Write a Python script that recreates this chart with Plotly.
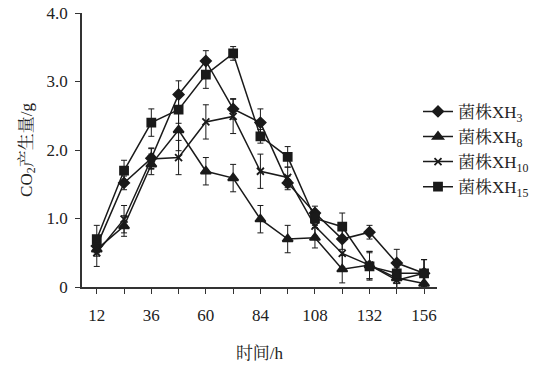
import plotly.graph_objects as go

hours = [12, 24, 36, 48, 60, 72, 84, 96, 108, 120, 132, 144, 156]

xh3 = [0.60, 1.52, 1.88, 2.81, 3.30, 2.60, 2.40, 1.52, 1.08, 0.70, 0.80, 0.35, 0.20]
xh3_err = [0.10, 0.10, 0.15, 0.20, 0.15, 0.15, 0.20, 0.10, 0.10, 0.15, 0.10, 0.20, 0.20]

xh8 = [0.55, 0.89, 1.79, 2.29, 1.69, 1.59, 0.99, 0.70, 0.72, 0.26, 0.32, 0.13, 0.05]
xh8_err = [0.10, 0.15, 0.15, 0.30, 0.20, 0.20, 0.20, 0.20, 0.15, 0.20, 0.20, 0.15, 0.10]

xh10 = [0.50, 0.99, 1.87, 1.89, 2.41, 2.49, 1.69, 1.60, 0.89, 0.49, 0.32, 0.10, 0.20]
xh10_err = [0.20, 0.20, 0.15, 0.25, 0.25, 0.25, 0.25, 0.15, 0.15, 0.20, 0.20, 0.15, 0.20]

xh15 = [0.70, 1.70, 2.40, 2.59, 3.10, 3.41, 2.20, 1.90, 1.00, 0.88, 0.30, 0.20, 0.20]
xh15_err = [0.20, 0.15, 0.20, 0.20, 0.20, 0.10, 0.10, 0.15, 0.10, 0.20, 0.20, 0.15, 0.20]

names = ["菌株XH<sub>3</sub>", "菌株XH<sub>8</sub>", "菌株XH<sub>10</sub>", "菌株XH<sub>15</sub>"]
symbols = ["diamond", "triangle-up", "x-thin-open", "square"]
sizes = [8, 9, 7, 8]

x_tickvals = [12, 36, 60, 84, 108, 132, 156]
x_minor = [24, 48, 72, 96, 120, 144]
y_tickvals = [0, 1, 2, 3, 4]
y_ticktext = ["0", "1.0", "2.0", "3.0", "4.0"]

FONT = "Liberation Serif, Times New Roman, Noto Serif CJK SC, Noto Sans CJK SC, serif"

fig = go.Figure()
for name, ys, errs, sym, sz in zip(names, [xh3, xh8, xh10, xh15],
                                   [xh3_err, xh8_err, xh10_err, xh15_err],
                                   symbols, sizes):
    fig.add_trace(go.Scatter(
        x=hours, y=ys, name=name, mode="lines+markers",
        line=dict(color="#1a1a1a", width=1.5),
        marker=dict(symbol=sym, size=sz, color="#1a1a1a",
                    line=dict(color="#1a1a1a", width=1.8)),
        error_y=dict(type="data", array=errs, visible=True,
                     color="#1a1a1a", thickness=1, width=3),
        cliponaxis=False,
    ))

fig.update_layout(
    width=550, height=368,
    margin=dict(l=82, r=113, t=13, b=81, autoexpand=False),
    paper_bgcolor="white", plot_bgcolor="white",
    font=dict(family=FONT, size=17, color="#222"),
    showlegend=True,
    legend=dict(xref="container", yref="container",
                x=0.76, xanchor="left", y=0.745, yanchor="top",
                font=dict(size=17, family=FONT),
                itemwidth=30, tracegroupgap=0,
                bgcolor="rgba(0,0,0,0)"),
    xaxis=dict(range=[5.5, 161.7], tickvals=x_tickvals, automargin=False,
               ticks="outside", ticklen=5, tickcolor="#333", tickwidth=1,
               ticklabelstandoff=7,
               minor=dict(tickvals=x_minor, ticks="outside", ticklen=5,
                          tickcolor="#333", tickwidth=1),
               showline=True, linecolor="#333", linewidth=1.5,
               showgrid=False, zeroline=False,
               title=dict(text="时间/h", font=dict(size=17, family=FONT), standoff=23)),
    yaxis=dict(range=[0, 4], tickvals=y_tickvals, ticktext=y_ticktext, automargin=False,
               ticks="outside", ticklen=5, tickcolor="#333", tickwidth=1,
               ticklabelstandoff=4,
               showline=True, linecolor="#333", linewidth=1.5,
               showgrid=False, zeroline=False,
               title=dict(text="CO<sub>2</sub>产生量/g", font=dict(size=17, family=FONT), standoff=10)),
)

fig.write_html("out.html", config={"displayModeBar": False},
               post_script="document.body.style.margin='0';document.body.style.overflow='hidden';")
